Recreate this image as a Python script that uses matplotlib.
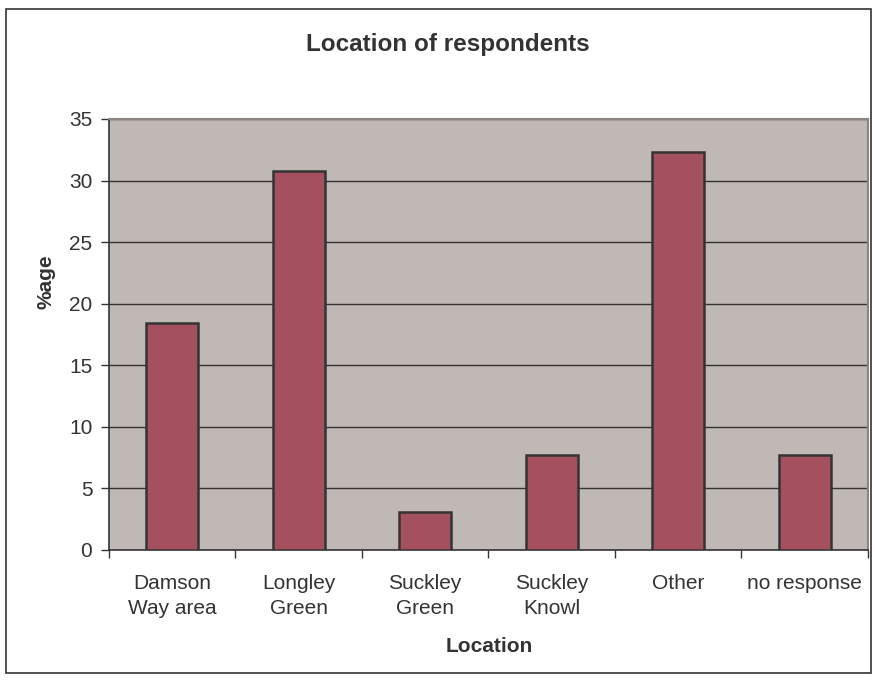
import numpy as np
import matplotlib.pyplot as plt
from matplotlib.patches import Rectangle

plt.rcParams['font.family'] = ['Liberation Sans', 'DejaVu Sans']

locations = ['Damson\nWay area', 'Longley\nGreen', 'Suckley\nGreen', 'Suckley\nKnowl', 'Other', 'no response']
pct = [18.46, 30.77, 3.08, 7.69, 32.31, 7.69]
yticks = [0, 5, 10, 15, 20, 25, 30, 35]

txt = '#333333'

fig = plt.figure(figsize=(8.78, 6.8), dpi=100)
ax = fig.add_axes([0.1241, 0.1912, 0.8645, 0.6338])

# outer frame round the whole chart
fig.patches.append(Rectangle((6 / 878, 7 / 680), 865 / 878, 664 / 680, transform=fig.transFigure,
                             fill=False, edgecolor='#333333', linewidth=1.2))

x = np.arange(len(locations))
ax.set_facecolor('#C0B8B5')
ax.set_axisbelow(True)
ax.yaxis.grid(True, color='#333333', linewidth=1.0)
ax.bar(x, pct, width=0.41, color='#A5505F', edgecolor='#333333', linewidth=1.8, zorder=3)

ax.set_xlim(-0.5, len(locations) - 0.5)
ax.set_ylim(0, 35)
ax.set_yticks(yticks)
ax.set_xticks(x)
ax.set_xticklabels(locations, linespacing=1.45)
ax.set_xticks(np.arange(-0.5, len(locations)), minor=True)
ax.tick_params(axis='x', which='major', length=0, pad=17)
ax.tick_params(axis='x', which='minor', length=6, color='#333333', width=1)
ax.tick_params(axis='y', length=6, color='#333333', width=1, pad=6)
ax.tick_params(labelsize=15, labelcolor=txt)

for s in ['top', 'right']:
    ax.spines[s].set_color('#8E8480')
    ax.spines[s].set_linewidth(1.5)
for s in ['left', 'bottom']:
    ax.spines[s].set_color('#333333')
    ax.spines[s].set_linewidth(1.2)

fig.text(448 / 878, 1 - 45 / 680, 'Location of respondents', fontsize=17.5, fontweight='bold',
         color=txt, ha='center', va='center')
fig.text(489 / 878, 1 - 647 / 680, 'Location', fontsize=15, fontweight='bold',
         color=txt, ha='center', va='center')
fig.text(46 / 878, 1 - 282 / 680, '%age', fontsize=15, fontweight='bold',
         color=txt, ha='center', va='center', rotation=90)

fig.savefig('out.png', dpi=100)
